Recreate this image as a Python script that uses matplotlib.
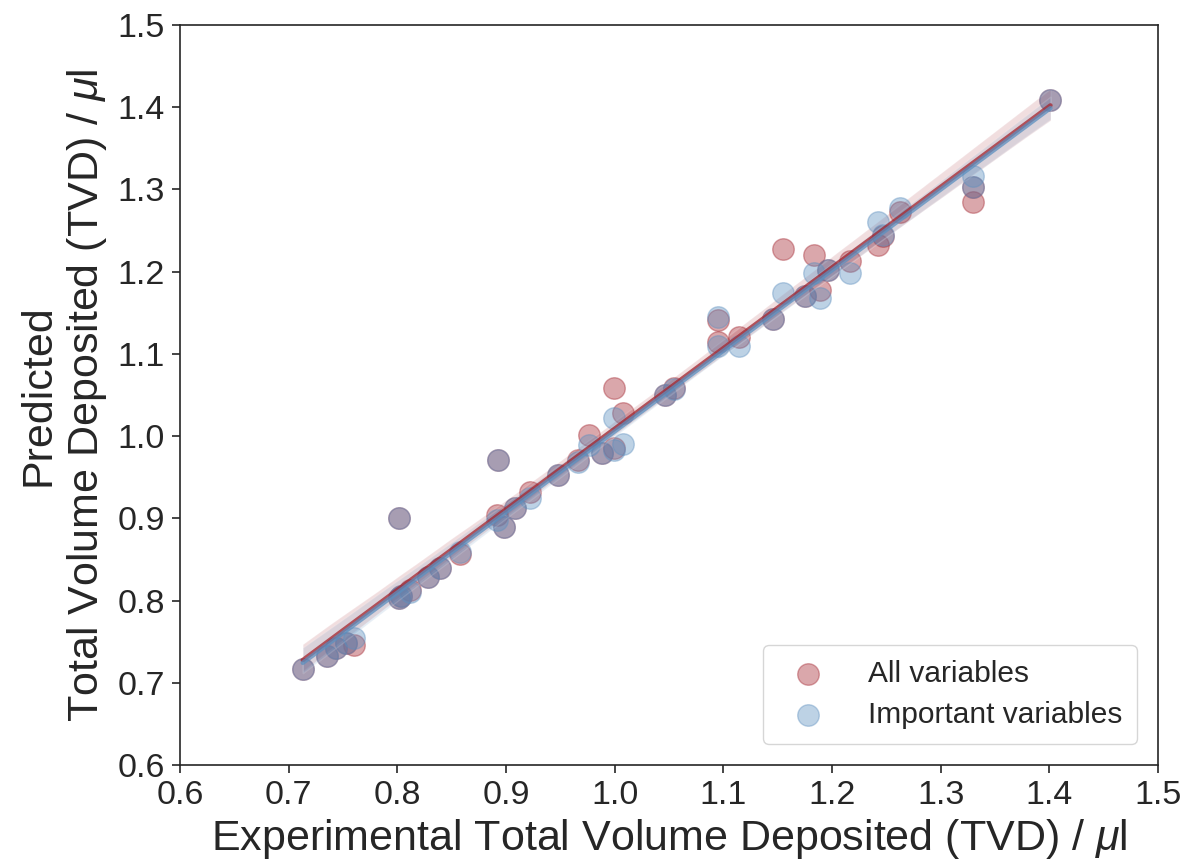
import matplotlib
matplotlib.use("Agg")
import matplotlib.pyplot as plt
import seaborn as sns
import numpy as np

x_exp = [0.713, 0.735, 0.744, 0.753, 0.760, 0.802, 0.802, 0.803, 0.812, 0.828,
         0.839, 0.858, 0.893, 0.892, 0.898, 0.908, 0.922, 0.948, 0.966, 0.976,
         0.988, 0.999, 0.999, 1.008, 1.046, 1.055, 1.095, 1.095, 1.114, 1.146,
         1.155, 1.175, 1.183, 1.189, 1.196, 1.217, 1.242, 1.247, 1.263, 1.330,
         1.330, 1.401]
y_all = [0.717, 0.732, 0.742, 0.748, 0.746, 0.900, 0.803, 0.805, 0.813, 0.829,
         0.839, 0.857, 0.971, 0.904, 0.890, 0.912, 0.932, 0.953, 0.971, 1.001,
         0.979, 0.985, 1.058, 1.028, 1.050, 1.058, 1.141, 1.115, 1.121, 1.143,
         1.227, 1.170, 1.220, 1.178, 1.202, 1.213, 1.233, 1.243, 1.272, 1.285,
         1.303, 1.409]
y_imp = [0.717, 0.732, 0.742, 0.748, 0.755, 0.900, 0.803, 0.805, 0.811, 0.829,
         0.839, 0.859, 0.971, 0.898, 0.890, 0.912, 0.925, 0.953, 0.969, 0.989,
         0.979, 0.983, 1.022, 0.991, 1.050, 1.057, 1.145, 1.110, 1.109, 1.143,
         1.174, 1.170, 1.198, 1.168, 1.202, 1.198, 1.261, 1.245, 1.277, 1.316,
         1.303, 1.409]
labels = ["All variables", "Important variables"]
ticks = [0.6, 0.7, 0.8, 0.9, 1.0, 1.1, 1.2, 1.3, 1.4, 1.5]

sns.set_style("ticks")
plt.rcParams['font.family'] = ['Liberation Sans', 'DejaVu Sans']
plt.rcParams['mathtext.fontset'] = 'custom'
plt.rcParams['mathtext.it'] = 'Liberation Sans:italic'
plt.rcParams['mathtext.rm'] = 'Liberation Sans'

red = (0.64, 0.14, 0.18)
blue = (0.36, 0.56, 0.75)

fig = plt.figure(figsize=(11.8, 8.65), dpi=100)
ax = fig.add_axes([0.1525, 0.1156, 0.8289, 0.8555])

sns.regplot(x=np.array(x_exp), y=np.array(y_all), ax=ax, color=red, label=labels[0],
            scatter_kws=dict(s=240, alpha=0.4), line_kws=dict(lw=3.2, alpha=0.75))
sns.regplot(x=np.array(x_exp), y=np.array(y_imp), ax=ax, color=blue, label=labels[1],
            scatter_kws=dict(s=240, alpha=0.4), line_kws=dict(lw=3.2, alpha=0.75))

ax.set_xlim(0.6, 1.5)
ax.set_ylim(0.6, 1.5)
ax.set_xticks(ticks)
ax.set_yticks(ticks)
ax.set_xticklabels([f"{t:.1f}" for t in ticks])
ax.set_yticklabels([f"{t:.1f}" for t in ticks])
ax.tick_params(labelsize=24.5, length=6, width=1.2, colors='0.15', pad=5)
for sp in ax.spines.values():
    sp.set_color('0.15')
    sp.set_linewidth(1.2)
ax.set_xlabel("Experimental Total Volume Deposited (TVD) / $\\mu$l", fontsize=31, color='0.15', labelpad=4)
ax.set_ylabel("Predicted\nTotal Volume Deposited (TVD) / $\\mu$l", fontsize=31, color='0.15', labelpad=6)

leg = ax.legend(loc='lower right', fontsize=21.5, frameon=True, borderpad=0.5,
                handletextpad=1.0, labelspacing=0.45, borderaxespad=0.7)
leg.get_frame().set_edgecolor('0.8')

fig.savefig("out.png", dpi=100)
